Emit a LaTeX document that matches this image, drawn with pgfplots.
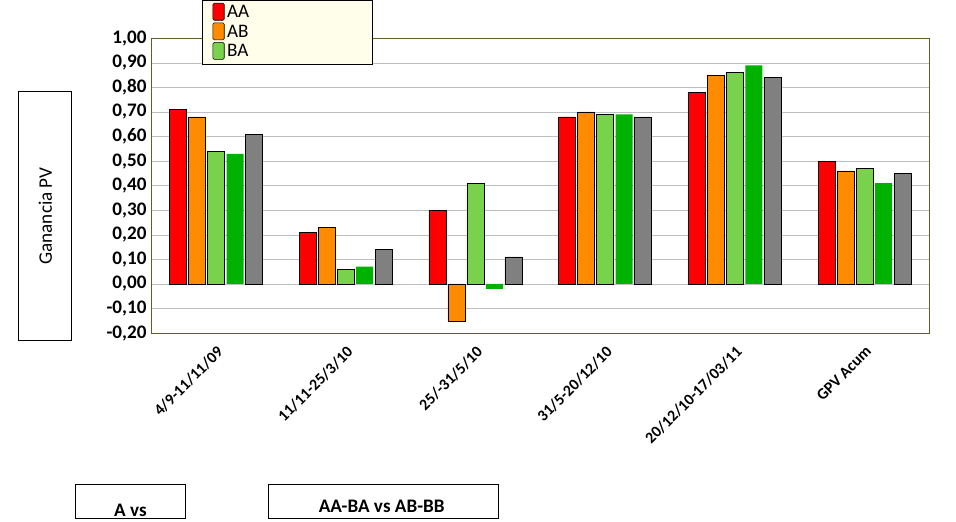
\documentclass[border=0pt]{standalone}
\usepackage{pgfplots}
\pgfplotsset{compat=1.18}
\usepackage{fontspec}
\setmainfont{Carlito}
\begin{document}
\begin{tikzpicture}
\path (0,0) rectangle (25.3cm,13.6cm);
\begin{axis}[at={(4.0cm,4.9cm)},anchor=south west,
 width=20.6cm,height=7.8cm,scale only axis,
 ybar=1.5pt,bar width=0.45cm,
 ymin=-0.2,ymax=1.0,ytick={-0.2,-0.1,...,1.0},
 yticklabel style={font=\bfseries\Large,/pgf/number format/.cd,fixed,fixed zerofill,precision=2,use comma},
 /pgf/number format/assume math mode=true,
 xmin=-0.5,xmax=5.5,xtick=data,
 xticklabels={4/9-11/11/09,11/11-25/3/10,25/-31/5/10,31/5-20/12/10,20/12/10-17/03/11,GPV Acum},
 xticklabel style={rotate=45,anchor=north east,font=\bfseries\large},
 ymajorgrids,grid style={gray!50},
 axis line style={olive!60!black,thick},
 tick style={draw=none},
 legend style={at={(0.065,1.13)},anchor=north west,fill=yellow!8,draw=black,font=\Large,legend cell align=left,
   inner xsep=8pt,text width=3.5cm},
 legend image code/.code={\draw[#1,rounded corners=1pt] (0cm,-0.2cm) rectangle (0.3cm,0.25cm);},
 legend entries={AA,AB,BA},
]
\addplot[fill=red,draw=black] coordinates {(0,0.71)(1,0.21)(2,0.30)(3,0.68)(4,0.78)(5,0.50)};
\addplot[fill=orange!90!yellow,draw=black] coordinates {(0,0.68)(1,0.23)(2,-0.15)(3,0.70)(4,0.85)(5,0.46)};
\addplot[fill=green!50!olive!70,draw=black] coordinates {(0,0.54)(1,0.06)(2,0.41)(3,0.69)(4,0.86)(5,0.47)};
\addplot[fill=green!70!black,draw=none] coordinates {(0,0.53)(1,0.07)(2,-0.02)(3,0.69)(4,0.89)(5,0.41)};
\addplot[fill=gray,draw=black] coordinates {(0,0.61)(1,0.14)(2,0.11)(3,0.68)(4,0.84)(5,0.45)};
\end{axis}
\draw[thick] (0.5cm,4.7cm) rectangle (1.9cm,11.3cm);
\node[rotate=90,font=\Large] at (1.2cm,8.0cm) {Ganancia PV};
\draw[thick] (2.0cm,0cm) rectangle (4.9cm,0.9cm);
\node[font=\bfseries\Large] at (3.45cm,0.2cm) {A vs};
\draw[thick] (7.1cm,0cm) rectangle (13.2cm,0.9cm);
\node[font=\bfseries\Large] at (10.1cm,0.3cm) {AA-BA vs AB-BB};
\end{tikzpicture}
\end{document}
